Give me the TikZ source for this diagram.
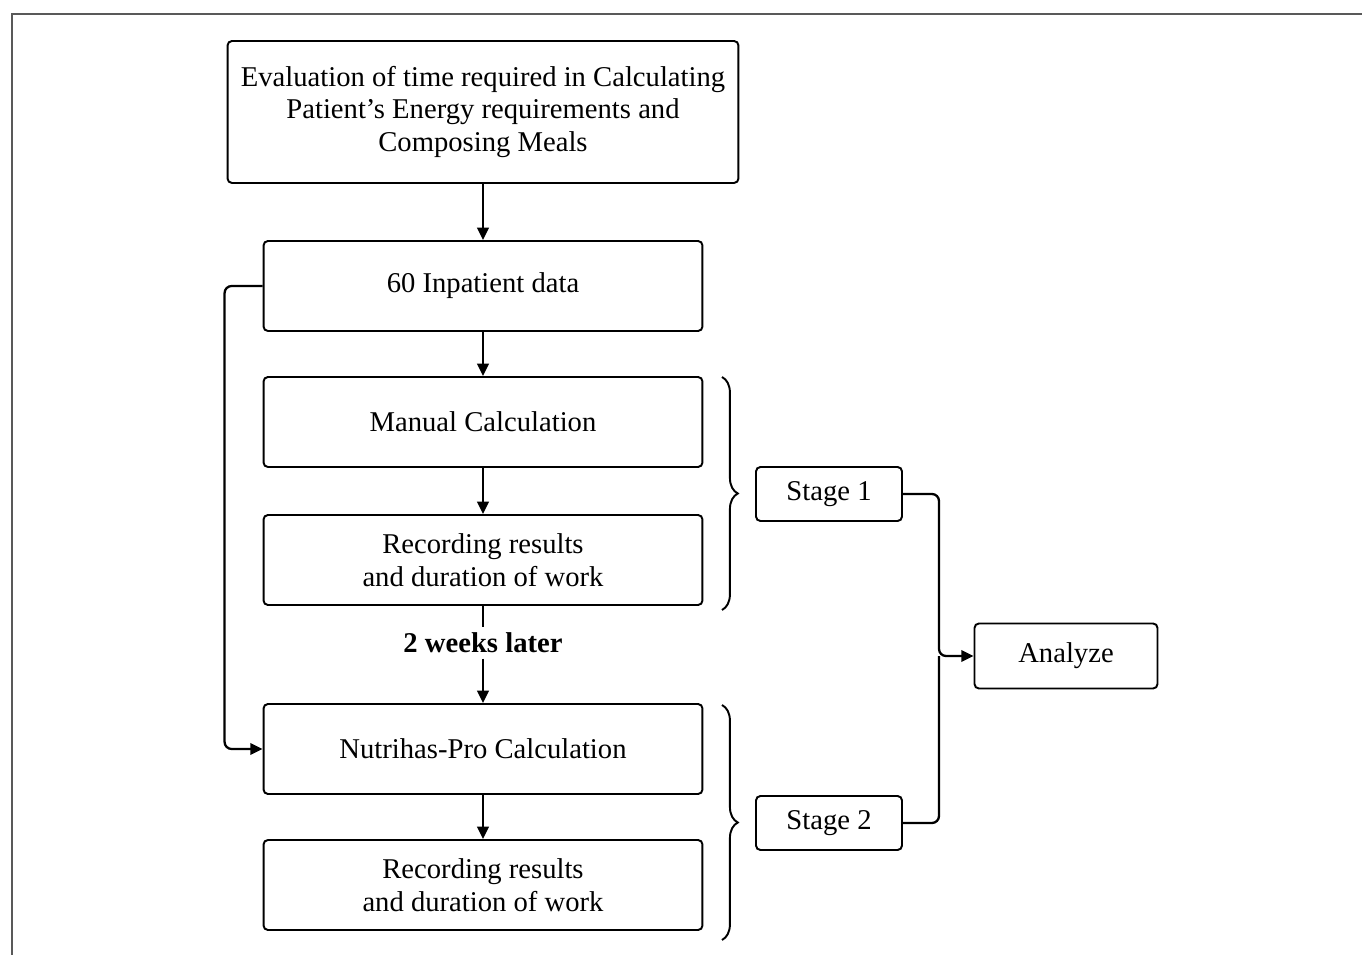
\documentclass[tikz,border=0pt]{standalone}
\usepackage{fontspec}
\setmainfont{Liberation Serif}
\usetikzlibrary{arrows.meta,decorations.pathreplacing}

\begin{document}
\begin{tikzpicture}[x=0.02cm,y=-0.02cm,
  box/.style={draw,line width=1.1pt,rounded corners=2.5pt,align=center,inner sep=0pt,
    font=\fontsize{16.3}{18.6}\selectfont},
  mainbox/.style={box,minimum width=8.78cm,minimum height=1.8cm},
  stagebox/.style={box,minimum width=2.92cm,minimum height=1.08cm},
  link/.style={line width=1.3pt,-{Triangle[length=7pt,width=6.5pt]}},
  plain/.style={line width=1.3pt},
  stagebrace/.style={decorate,decoration={brace,amplitude=9pt},line width=1.1pt}]
\useasboundingbox (0,0) rectangle (1362,955);
\draw[gray!70!black,line width=1pt] (12,955) -- (12,14) -- (1362,14);

\node[box,minimum width=10.22cm,minimum height=2.84cm] (eval) at (483,112)
  {Evaluation of time required in Calculating\\Patient's Energy requirements and\\Composing Meals};
\node[mainbox] (data) at (483,286) {60 Inpatient data};
\node[mainbox] (man) at (483,422) {Manual Calculation};
\node[mainbox] (rec1) at (483,560) {Recording results\\and duration of work};
\node[inner sep=3pt,font=\fontsize{16.3}{18}\selectfont\bfseries] (later) at (483,643) {2 weeks later};
\node[mainbox] (nutri) at (483,749) {Nutrihas-Pro Calculation};
\node[mainbox] (rec2) at (483,885) {Recording results\\and duration of work};

\node[stagebox] (st1) at (829,494) {Stage 1};
\node[stagebox] (st2) at (829,823) {Stage 2};
\node[box,minimum width=3.66cm,minimum height=1.3cm] (ana) at (1066,656) {Analyze};
\coordinate (join) at (939,656);

\draw[link] (eval) -- (data);
\draw[link] (data) -- (man);
\draw[link] (man) -- (rec1);
\draw[plain] (rec1) -- (later);
\draw[link] (later) -- (nutri);
\draw[link] (nutri) -- (rec2);
\draw[link,rounded corners=4pt] (data.west) -- ++(-38,0) |- (nutri.west);

\draw[stagebrace] (722,377) -- (722,610);
\draw[stagebrace] (722,705) -- (722,940);

\draw[link,rounded corners=4pt] (st1.east) -| (join) -- (ana.west);
\draw[plain,rounded corners=4pt] (st2.east) -| (join);
\end{tikzpicture}
\end{document}
